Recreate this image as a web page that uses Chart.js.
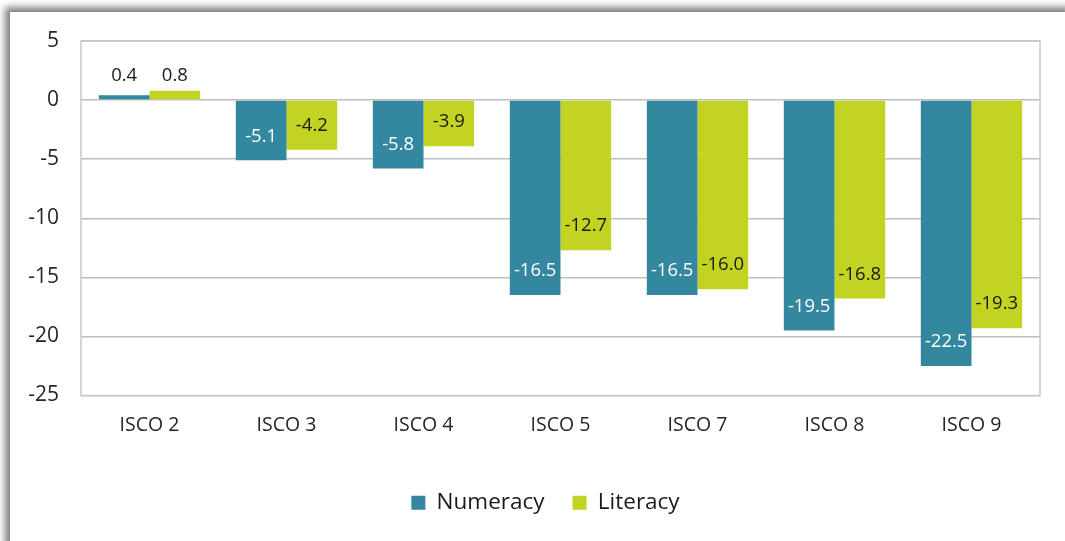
<!DOCTYPE html>
<html>
<head>
<meta charset="utf-8">
<script src="https://cdn.jsdelivr.net/npm/chart.js@4.4.0/dist/chart.umd.min.js"></script>
<style>
html,body{margin:0;padding:0;background:#fff;width:1065px;height:541px;overflow:hidden;}
#frame{position:absolute;left:10px;top:12px;width:1065px;height:540px;background:#fff;box-shadow:-5px -5px 7px rgba(0,0,0,0.5);}
#wrap{position:absolute;left:0;top:0;width:1065px;height:541px;}
</style>
</head>
<body>
<div id="frame"></div>
<div id="wrap"><canvas id="c" width="1065" height="541"></canvas></div>
<script>
const categories = ["ISCO 2","ISCO 3","ISCO 4","ISCO 5","ISCO 7","ISCO 8","ISCO 9"];
const numeracy = [0.4,-5.1,-5.8,-16.5,-16.5,-19.5,-22.5];
const literacy = [0.8,-4.2,-3.9,-12.7,-16.0,-16.8,-19.3];
const yTicks = [5,0,-5,-10,-15,-20,-25];

const FONT = "'Open Sans', 'Noto Sans', sans-serif";

const borderPlugin = {
  id:'areaBorder',
  beforeDatasetsDraw(chart){
    const a = chart.chartArea, ctx = chart.ctx;
    ctx.save();
    ctx.strokeStyle = '#c9c9c9';
    ctx.lineWidth = 1.5;
    ctx.strokeRect(a.left, a.top, a.right - a.left, a.bottom - a.top);
    ctx.restore();
  }
};

const labelPlugin = {
  id:'valLabels',
  afterDatasetsDraw(chart){
    const ctx = chart.ctx;
    ctx.save();
    ctx.font = "18.5px " + FONT;
    ctx.textAlign = 'center';
    ctx.textBaseline = 'middle';
    chart.data.datasets.forEach((ds, di) => {
      const meta = chart.getDatasetMeta(di);
      meta.data.forEach((bar, i) => {
        const v = ds.data[i];
        let y, color;
        if (v >= 0) {
          y = bar.base - 24;
          color = '#1a1a1a';
        } else {
          y = bar.y - 24;
          color = di === 0 ? '#ffffff' : '#1a1a1a';
        }
        ctx.fillStyle = color;
        ctx.fillText(v.toFixed(1), bar.x, y);
      });
    });
    ctx.restore();
  }
};

new Chart(document.getElementById('c'), {
  type:'bar',
  data:{
    labels: categories,
    datasets:[
      {label:'Numeracy', data: numeracy, backgroundColor:'#33879f', borderWidth:0},
      {label:'Literacy', data: literacy, backgroundColor:'#c2d322', borderWidth:0}
    ]
  },
  options:{
    responsive:false,
    animation:false,
    devicePixelRatio:1,
    layout:{padding:{left:26, right:0, top:41, bottom:17}},
    datasets:{bar:{categoryPercentage:0.74, barPercentage:1.0}},
    plugins:{
      legend:{
        position:'bottom',
        labels:{
          font:{family:FONT, size:22.5},
          color:'#1a1a1a',
          boxWidth:14, boxHeight:14,
          padding:28
        }
      },
      tooltip:{enabled:false}
    },
    scales:{
      x:{
        grid:{display:false, drawTicks:false},
        border:{display:false},
        ticks:{font:{family:FONT, size:19.5}, color:'#262626', padding:18},
        afterFit(s){ s.height = 68; }
      },
      y:{
        min:-25, max:5,
        afterBuildTicks(s){ s.ticks = yTicks.map(v => ({value:v})); },
        grid:{color:'#bfbfbf', lineWidth:1.5, drawTicks:false},
        border:{display:false},
        ticks:{font:{family:FONT, size:21}, color:'#262626', padding:22, stepSize:5},
        afterFit(s){ s.width = 55; }
      },
      yRight:{
        position:'right',
        min:-25, max:5,
        grid:{display:false, drawTicks:false},
        border:{display:false},
        ticks:{display:false},
        afterFit(s){ s.width = 25; }
      }
    }
  },
  plugins:[borderPlugin, labelPlugin]
});
</script>
</body>
</html>
